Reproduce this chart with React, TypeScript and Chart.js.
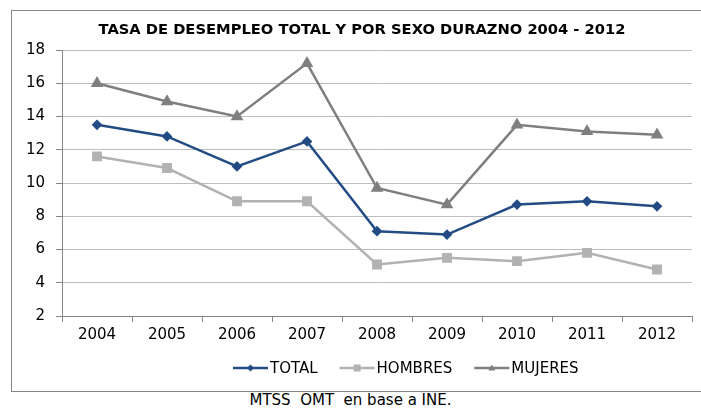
import React, { useEffect, useRef } from "react";
import { Chart, registerables } from "chart.js";

Chart.register(...registerables);

const categories = ["2004", "2005", "2006", "2007", "2008", "2009", "2010", "2011", "2012"];
const total = [13.5, 12.8, 11.0, 12.5, 7.1, 6.9, 8.7, 8.9, 8.6];
const hombres = [11.6, 10.9, 8.9, 8.9, 5.1, 5.5, 5.3, 5.8, 4.8];
const mujeres = [16.0, 14.9, 14.0, 17.2, 9.7, 8.7, 13.5, 13.1, 12.9];
const yTicks = [2, 4, 6, 8, 10, 12, 14, 16, 18];
const titleText = "TASA DE DESEMPLEO TOTAL Y POR SEXO DURAZNO 2004 - 2012";
const sourceText = "MTSS  OMT  en base a INE.";

const FONT = "'DejaVu Sans', sans-serif";

const overlayPlugin = {
  id: "overlay",
  afterDraw(chart: any) {
    const ctx = chart.ctx;
    ctx.save();
    // title
    ctx.fillStyle = "#000";
    ctx.font = "bold 14.7px " + FONT;
    ctx.textAlign = "center";
    ctx.textBaseline = "middle";
    ctx.fillText(titleText, chart.width / 2, 19);
    // legend
    const y = 357;
    let x = 221;
    ctx.font = "15px " + FONT;
    ctx.textAlign = "left";
    chart.data.datasets.forEach((ds: any) => {
      ctx.strokeStyle = ds.borderColor;
      ctx.lineWidth = 2.5;
      ctx.beginPath();
      ctx.moveTo(x, y);
      ctx.lineTo(x + 35, y);
      ctx.stroke();
      ctx.fillStyle = ds.backgroundColor;
      const cx = x + 17.5;
      const r = 3.5;
      ctx.beginPath();
      if (ds.pointStyle === "rectRot") {
        ctx.moveTo(cx, y - r);
        ctx.lineTo(cx + r, y);
        ctx.lineTo(cx, y + r);
        ctx.lineTo(cx - r, y);
      } else if (ds.pointStyle === "rect") {
        ctx.rect(cx - r, y - r, r * 2, r * 2);
      } else {
        ctx.moveTo(cx, y - r);
        ctx.lineTo(cx + r, y + r * 0.7);
        ctx.lineTo(cx - r, y + r * 0.7);
      }
      ctx.closePath();
      ctx.fill();
      ctx.fillStyle = "#000";
      ctx.fillText(ds.label, x + 37, y + 1);
      x += 37 + ctx.measureText(ds.label).width + 22;
    });
    ctx.restore();
  },
};

export default function App() {
  const ref = useRef<HTMLCanvasElement>(null);
  useEffect(() => {
    document.body.style.margin = "0";
    const chart = new Chart(ref.current!, {
      type: "line",
      data: {
        labels: categories,
        datasets: [
          {
            label: "TOTAL",
            data: total,
            borderColor: "#244C84",
            backgroundColor: "#244C84",
            borderWidth: 2.5,
            pointStyle: "rectRot",
            pointRadius: 3.6,
            pointHoverRadius: 3.6,
          },
          {
            label: "HOMBRES",
            data: hombres,
            borderColor: "#B2B2B2",
            backgroundColor: "#B2B2B2",
            borderWidth: 2.5,
            pointStyle: "rect",
            pointRadius: 5.2,
            pointHoverRadius: 5.2,
          },
          {
            label: "MUJERES",
            data: mujeres,
            borderColor: "#7F7F7F",
            backgroundColor: "#7F7F7F",
            borderWidth: 2.5,
            pointStyle: "triangle",
            pointRadius: 4.8,
            pointHoverRadius: 4.8,
          },
        ],
      },
      options: {
        animation: false,
        responsive: false,
        maintainAspectRatio: false,
        layout: { padding: { top: 39, right: 20, bottom: 44, left: 0 } },
        plugins: {
          legend: { display: false },
          title: { display: false },
          tooltip: { enabled: false },
        },
        scales: {
          x: {
            offset: true,
            afterFit: (s: any) => {
              s.height = 30;
            },
            grid: {
              drawOnChartArea: false,
              offset: true,
              tickLength: 6,
              color: "#868686",
            },
            border: { color: "#868686" },
            ticks: {
              padding: 4,
              color: "#000",
              font: { family: FONT, size: 15 },
              maxRotation: 0,
            },
          },
          y: {
            min: 2,
            max: 18,
            afterFit: (s: any) => {
              s.width = 50;
            },
            afterBuildTicks: (s: any) => {
              s.ticks = yTicks.map((v) => ({ value: v }));
            },
            grid: {
              color: "#BDBDBD",
              tickLength: 6,
              tickColor: "#868686",
            },
            border: { color: "#868686" },
            ticks: {
              padding: 11,
              color: "#000",
              font: { family: FONT, size: 15 },
            },
          },
        },
      },
      plugins: [overlayPlugin],
    });
    return () => chart.destroy();
  }, []);

  return (
    <div style={{ position: "relative", width: 701, height: 412, overflow: "hidden", background: "#fff" }}>
      <div
        style={{
          position: "absolute",
          left: 11,
          top: 10,
          width: 720,
          height: 380,
          border: "1px solid #868686",
          overflow: "hidden",
        }}
      >
        <canvas ref={ref} width={700} height={379} style={{ position: "absolute", left: 0, top: 0 }} />
      </div>
      <div
        style={{
          position: "absolute",
          left: 0,
          width: 701,
          top: 391,
          textAlign: "center",
          fontFamily: FONT,
          fontSize: 15,
          whiteSpace: "pre",
          color: "#000",
        }}
      >
        {sourceText}
      </div>
    </div>
  );
}
